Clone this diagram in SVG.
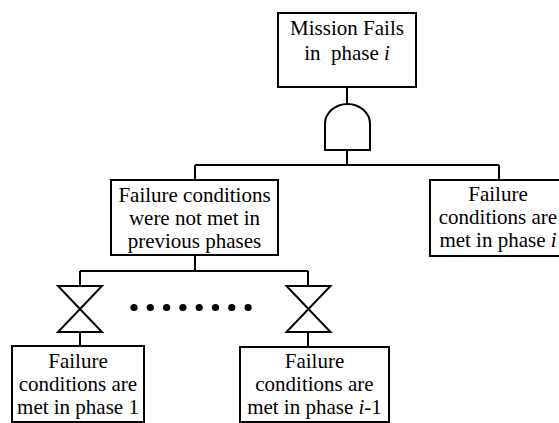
<svg xmlns="http://www.w3.org/2000/svg" width="559" height="423" viewBox="0 0 559 423">
<defs>
<path id="bowtie" d="M-22,0 H22 L-22,46 H22 Z"/>
</defs>
<rect width="559" height="423" fill="#fff"/>
<g id="connectors" fill="none" stroke="#000" stroke-width="2">
<path d="M347,87 V104 M347,150 V165 M195,165 H499 M195,165 V180 M499,165 V180"/>
<path d="M195,255 V271 M80,271 H308 M80,271 V286 M308,271 V286 M80,332 V346 M308,332 V347"/>
<g fill="#000" stroke="none">
<circle cx="134" cy="307.5" r="3.6"/>
<circle cx="150.3" cy="307.5" r="3.6"/>
<circle cx="166.6" cy="307.5" r="3.6"/>
<circle cx="182.9" cy="307.5" r="3.6"/>
<circle cx="199.2" cy="307.5" r="3.6"/>
<circle cx="215.5" cy="307.5" r="3.6"/>
<circle cx="231.8" cy="307.5" r="3.6"/>
<circle cx="248.1" cy="307.5" r="3.6"/>
</g>
</g>
<g id="top">
<rect x="278" y="13" width="138" height="74" fill="#fff" stroke="#000" stroke-width="2"/>
<text x="347" y="35" font-family="Times New Roman" font-size="21" text-anchor="middle">Mission Fails</text>
<text x="347" y="60" font-family="Times New Roman" font-size="21" text-anchor="middle">in&#160; phase <tspan font-style="italic">i</tspan></text>
</g>
<g id="and-gate">
<path d="M325,150 V124 A22.5,20 0 0 1 370,124 V150 Z" fill="#fff" stroke="#000" stroke-width="2"/>
</g>
<g id="not-met">
<rect x="111" y="180" width="167" height="75" fill="#fff" stroke="#000" stroke-width="2"/>
<text x="194.5" y="202" font-family="Times New Roman" font-size="21" text-anchor="middle">Failure conditions</text>
<text x="194.5" y="225" font-family="Times New Roman" font-size="21" text-anchor="middle">were not met in</text>
<text x="194.5" y="248" font-family="Times New Roman" font-size="21" text-anchor="middle">previous phases</text>
</g>
<g id="met-i">
<rect x="430" y="180" width="138" height="76" fill="#fff" stroke="#000" stroke-width="2"/>
<text x="498" y="201" font-family="Times New Roman" font-size="21" text-anchor="middle">Failure</text>
<text x="498" y="224" font-family="Times New Roman" font-size="21" text-anchor="middle">conditions are</text>
<text x="498" y="247" font-family="Times New Roman" font-size="21" text-anchor="middle">met in phase <tspan font-style="italic">i</tspan></text>
</g>
<g id="gate-1">
<use href="#bowtie" x="80" y="286" fill="#fff" stroke="#000" stroke-width="2"/>
</g>
<g id="gate-2">
<use href="#bowtie" x="308.5" y="286" fill="#fff" stroke="#000" stroke-width="2"/>
</g>
<g id="met-1">
<rect x="12" y="346" width="132" height="76" fill="#fff" stroke="#000" stroke-width="2"/>
<text x="78" y="368" font-family="Times New Roman" font-size="21" text-anchor="middle">Failure</text>
<text x="78" y="391" font-family="Times New Roman" font-size="21" text-anchor="middle">conditions are</text>
<text x="78" y="414" font-family="Times New Roman" font-size="21" text-anchor="middle">met in phase 1</text>
</g>
<g id="met-i-1">
<rect x="240" y="347" width="149" height="75" fill="#fff" stroke="#000" stroke-width="2"/>
<text x="314.5" y="368" font-family="Times New Roman" font-size="21" text-anchor="middle">Failure</text>
<text x="314.5" y="391" font-family="Times New Roman" font-size="21" text-anchor="middle">conditions are</text>
<text x="314.5" y="414" font-family="Times New Roman" font-size="21" text-anchor="middle">met in phase <tspan font-style="italic">i</tspan>-1</text>
</g>
</svg>
